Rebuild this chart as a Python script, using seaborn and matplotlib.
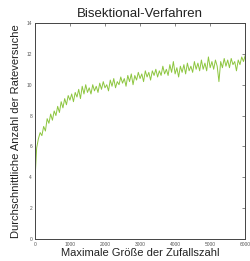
import matplotlib
matplotlib.use("Agg")
import matplotlib.pyplot as plt
import seaborn as sns
import pandas as pd

x_step = 50
avg_guesses = [
    3.7, 5.9, 6.5, 6.9, 6.7, 7.3, 7.0, 7.8, 7.5, 8.1,
    7.7, 8.3, 8.0, 8.6, 8.2, 8.9, 8.5, 9.1, 8.7, 9.3,
    9.0, 9.4, 8.9, 9.5, 9.2, 9.7, 9.1, 9.9, 9.4, 10.0,
    9.5, 9.8, 9.4, 10.0, 9.6, 9.9, 9.5, 10.1, 9.7, 10.2,
    9.8, 10.0, 9.6, 10.3, 9.9, 10.4, 9.8, 10.2, 10.0, 10.5,
    10.1, 10.4, 9.9, 10.6, 10.2, 10.7, 10.0, 10.6, 10.3, 10.8,
    10.4, 10.7, 10.2, 10.9, 10.5, 10.8, 10.3, 10.9, 10.6, 11.0,
    10.5, 10.9, 10.6, 11.2, 10.7, 11.0, 10.6, 11.3, 10.8, 11.5,
    10.7, 11.1, 10.5, 11.2, 10.8, 11.3, 10.7, 11.4, 10.9, 11.2,
    10.8, 11.5, 11.0, 11.4, 10.9, 11.6, 11.0, 11.4, 10.9, 11.8,
    11.1, 11.5, 11.0, 11.6, 11.2, 10.2, 11.5, 11.1, 11.7, 11.2,
    11.6, 11.1, 11.7, 11.3, 11.5, 10.9, 11.6, 11.3, 11.8, 11.5,
    11.9,
]
max_values = [i * x_step for i in range(len(avg_guesses))]

x_ticks = [0, 1000, 2000, 3000, 4000, 5000, 6000]
y_ticks = [0, 2, 4, 6, 8, 10, 12, 14]

df = pd.DataFrame({"x": max_values, "y": avg_guesses})

sns.set_style("white")
plt.rcParams["font.family"] = ["Liberation Sans", "DejaVu Sans"]
fig = plt.figure(figsize=(2.51, 2.61), dpi=100)
ax = fig.add_axes([0.139, 0.084, 0.838, 0.828])
sns.lineplot(data=df, x="x", y="y", ax=ax, color="#8dc63f", linewidth=0.7)

ax.set_xlim(0, 6000)
ax.set_ylim(0, 14)
ax.set_xticks(x_ticks)
ax.set_yticks(y_ticks)
ax.tick_params(direction="in", length=2, width=0.5, labelsize=3.5,
               labelcolor="#555555", color="#555555", pad=2,
               top=True, right=True)
for s in ax.spines.values():
    s.set_color("#444444")
    s.set_linewidth(0.7)

ax.set_title("Bisektional-Verfahren", fontsize=9.5, color="#222222", pad=4)
ax.set_xlabel("Maximale Größe der Zufallszahl", fontsize=8, color="#222222", labelpad=1)
ax.set_ylabel("Durchschnittliche Anzahl der Rateversuche", fontsize=8, color="#222222", labelpad=4)

fig.savefig("out.png", dpi=100)
